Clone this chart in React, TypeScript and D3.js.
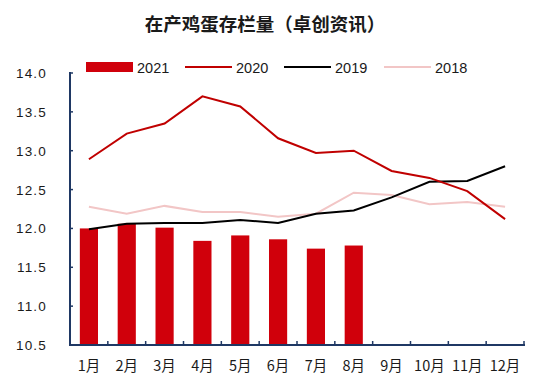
import React from "react";
import * as d3 from "d3";

const months = ["1月", "2月", "3月", "4月", "5月", "6月", "7月", "8月", "9月", "10月", "11月", "12月"];
const s2021 = [12.0, 12.06, 12.01, 11.84, 11.91, 11.86, 11.74, 11.78];
const s2020 = [12.89, 13.22, 13.35, 13.7, 13.57, 13.16, 12.97, 13.0, 12.74, 12.65, 12.48, 12.12];
const s2019 = [11.99, 12.06, 12.07, 12.07, 12.11, 12.07, 12.19, 12.23, 12.4, 12.6, 12.61, 12.8];
const s2018 = [12.28, 12.19, 12.29, 12.21, 12.21, 12.15, 12.19, 12.46, 12.43, 12.31, 12.34, 12.28];
const yTicks = [10.5, 11.0, 11.5, 12.0, 12.5, 13.0, 13.5, 14.0];

const W = 550, H = 376;
const left = 70, right = 524, top = 73, bottom = 345;
const axisColor = "#1F3864";
const font = "'Liberation Sans', 'Noto Sans CJK SC', Arial, sans-serif";

export default function App() {
  const x = d3.scaleBand<string>().domain(months).range([left, right]).paddingInner(0.52).paddingOuter(0.26);
  const xc = d3.scaleBand<string>().domain(months).range([left, right]);
  const y = d3.scaleLinear().domain([10.5, 14.0]).range([bottom, top]);
  const cx = (i: number) => (xc(months[i]) as number) + xc.bandwidth() / 2;
  const line = d3.line<number>().x((_, i) => cx(i)).y((d) => y(d));
  const fmt = d3.format(".1f");

  const legend = [
    { label: "2021", type: "bar", color: "#D0000B", x: 86 },
    { label: "2020", type: "line", color: "#C00000", x: 185 },
    { label: "2019", type: "line", color: "#000000", x: 284 },
    { label: "2018", type: "line", color: "#F2C6C6", x: 384 },
  ];

  return (
    <svg width={W} height={H} style={{ position: "absolute", left: 0, top: 0, background: "#fff" }} fontFamily={font}>
      <text x={265} y={31} textAnchor="middle" fontSize={18.5} fontWeight="bold" fill="#1a1a1a"
        fontFamily="'Noto Sans CJK SC', sans-serif">在产鸡蛋存栏量（卓创资讯）</text>

      {legend.map((l) => (
        <g key={l.label}>
          {l.type === "bar" ? (
            <rect x={l.x} y={62} width={47} height={10} fill={l.color} />
          ) : (
            <line x1={l.x} x2={l.x + 47} y1={67} y2={67} stroke={l.color} strokeWidth={2} />
          )}
          <text x={l.x + 51} y={72.5} fontSize={14.5} fill="#1a1a1a">{l.label}</text>
        </g>
      ))}

      {s2021.map((v, i) => (
        <rect key={i} x={x(months[i]) as number} y={y(v)} width={x.bandwidth()} height={y(10.5) - y(v)} fill="#D0000B" />
      ))}

      <path d={line(s2018) as string} fill="none" stroke="#F2C6C6" strokeWidth={2} />
      <path d={line(s2019) as string} fill="none" stroke="#000000" strokeWidth={2} />
      <path d={line(s2020) as string} fill="none" stroke="#C00000" strokeWidth={2} />

      <line x1={left} x2={left} y1={top - 1} y2={bottom} stroke={axisColor} strokeWidth={2} />
      {yTicks.map((t) => (
        <g key={t}>
          <line x1={left} x2={left + 3} y1={y(t)} y2={y(t)} stroke={axisColor} strokeWidth={1.5} />
          <text x={47} y={y(t) + 5} textAnchor="end" fontSize={13.5} letterSpacing={1.2} fill="#1a1a1a">{fmt(t)}</text>
        </g>
      ))}

      <line x1={left - 1} x2={right + 1} y1={bottom} y2={bottom} stroke={axisColor} strokeWidth={2} />
      {months.map((m, i) => (
        <g key={m}>
          <line x1={(xc(m) as number) + xc.bandwidth()} x2={(xc(m) as number) + xc.bandwidth()} y1={bottom} y2={bottom - 4}
            stroke={axisColor} strokeWidth={1.5} />
          <text x={cx(i)} y={371} textAnchor="middle" fontSize={14.5} fill="#1a1a1a"
            fontFamily="'Noto Sans CJK SC', sans-serif">{m}</text>
        </g>
      ))}
    </svg>
  );
}
